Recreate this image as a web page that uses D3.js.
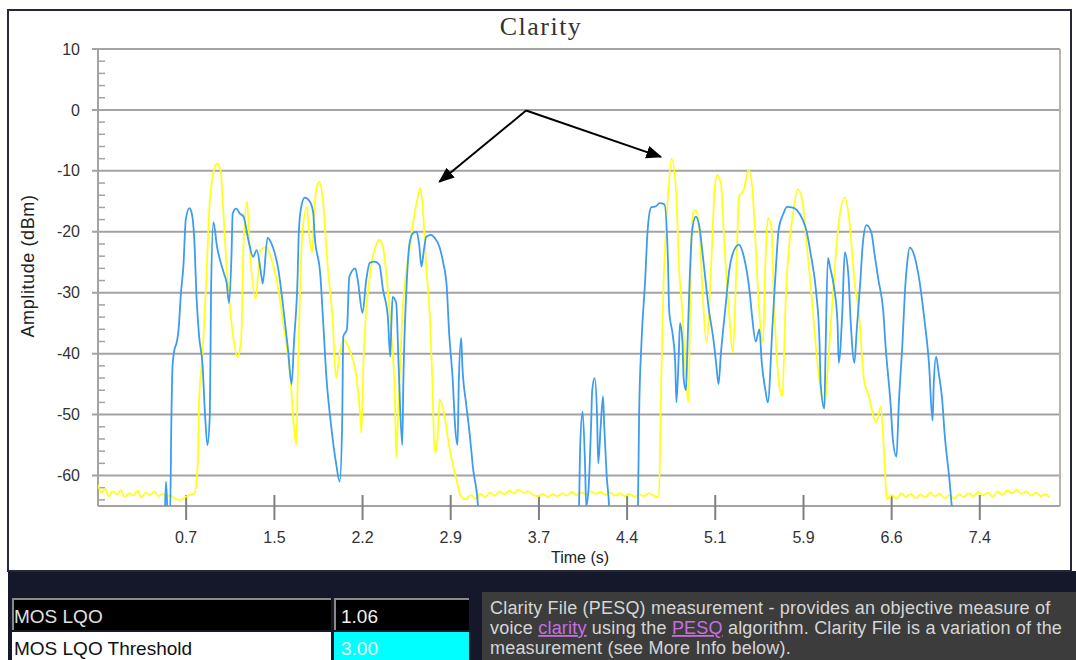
<!DOCTYPE html>
<html>
<head>
<meta charset="utf-8">
<script src="https://cdn.jsdelivr.net/npm/d3@7"></script>
<style>
  body { margin: 0; background: #fff; }
  svg { display: block; }
</style>
</head>
<body>
<svg width="1076" height="660"></svg>
<script>
// Clarity trace, amplitude (dBm) vs time (s)
const yellowT = [0.00,0.03,0.06,0.09,0.12,0.16,0.19,0.22,0.26,0.29,0.33,0.36,0.40,0.43,0.47,0.50,0.54,0.57,0.60,0.63,0.66,0.69,0.72,0.76,0.80,
  0.83,0.84,0.87,0.90,0.93,0.97,0.99,1.02,1.04,1.07,1.10,1.13,1.16,1.19,1.21,1.24,1.26,1.31,1.35,1.40,1.45,1.49,1.54,1.60,1.63,1.65,1.66,1.68,1.70,1.74,1.75,1.78,1.80,1.82,1.84,1.87,1.91,1.95,1.98,2.01,2.04,2.09,2.15,2.18,2.19,2.21,2.23,2.26,2.32,2.34,2.37,2.41,2.44,2.47,2.48,2.50,2.53,2.59,2.65,2.68,2.70,2.73,2.76,2.78,2.80,2.82,2.84,2.88,2.92,2.98,3.02,
  3.06,3.10,3.14,3.18,3.22,3.26,3.30,3.34,3.38,3.42,3.46,3.50,3.54,3.58,3.62,3.66,3.70,3.74,3.78,3.82,3.86,3.90,3.94,3.98,4.02,4.06,4.10,4.14,4.18,4.22,4.26,4.30,4.34,4.38,4.42,4.46,4.50,4.54,4.58,4.62,4.665,
  4.68,4.70,4.74,4.77,4.81,4.83,4.86,4.89,4.91,4.93,4.95,4.97,5.00,5.03,5.06,5.10,5.13,5.15,5.18,5.21,5.25,5.28,5.31,5.33,5.37,5.41,5.44,5.47,5.50,5.53,5.55,5.57,5.60,5.62,5.66,5.69,5.72,5.78,5.82,5.86,5.89,5.93,5.97,6.01,6.04,6.07,6.11,6.16,6.21,6.25,6.29,6.33,6.37,6.41,6.47,6.51,6.54,6.56,
  6.60,6.64,6.68,6.72,6.76,6.80,6.84,6.88,6.92,6.96,7.00,7.04,7.08,7.12,7.16,7.20,7.24,7.28,7.32,7.36,7.40,7.44,7.48,7.52,7.56,7.60,7.64,7.68,7.72,7.76,7.80,7.84,7.88,7.91];
const yellowDb = [-61.5,-62.8,-62.2,-63.4,-62.6,-63.1,-62.4,-63.5,-62.9,-63.3,-62.5,-63.6,-62.8,-63.2,-62.6,-63.4,-63.0,-63.5,-63.2,-63.7,-63.9,-64.0,-63.6,-63.2,-63.0,
  -58,-48,-40,-28,-15,-9.5,-8.8,-10,-16,-26,-33,-38,-40.5,-38,-22,-15,-22,-31,-23,-22.5,-25,-28.4,-35,-44,-52,-55,-45,-30,-20,-15.9,-19,-23.4,-16,-12.6,-11.8,-14.8,-25.7,-34,-44,-40,-37.7,-39.3,-44,-50,-53,-40,-33,-27.4,-21.8,-21.3,-22.5,-29.5,-37.2,-48,-57,-48,-34,-23,-15.2,-12.8,-15.9,-25.7,-34,-44,-56.2,-55,-47.5,-50,-55.2,-60.6,-63.5,
  -63.9,-63.2,-63.8,-63.0,-63.5,-62.8,-63.3,-62.6,-63.1,-62.5,-62.9,-62.3,-62.8,-62.6,-63.2,-63.4,-63.0,-63.5,-63.1,-63.4,-62.9,-63.3,-62.7,-63.2,-62.8,-63.1,-62.6,-63.0,-62.7,-63.2,-62.8,-63.3,-62.9,-63.4,-63.0,-63.5,-63.1,-63.4,-62.9,-63.3,-63.6,
  -48,-30.7,-14.3,-8.0,-14.3,-25.1,-33.3,-44.3,-48,-25.1,-16.9,-16.4,-19.7,-30.7,-38.2,-25.1,-12.6,-10.7,-12,-22.5,-33.9,-39.8,-25.1,-14.3,-13.1,-9.8,-12.6,-22.5,-33.3,-38.2,-25.1,-17.7,-19.2,-30.7,-44.3,-47,-30.7,-16.9,-13,-15.2,-21.3,-29.5,-38.9,-46,-49,-42,-30.7,-18.5,-14.4,-18.5,-27.9,-33.9,-44.3,-47,-51.3,-48.7,-57.4,-63.9,
  -63.2,-63.8,-62.9,-63.5,-63.0,-63.7,-63.1,-63.6,-62.8,-63.4,-63.0,-63.7,-63.2,-63.8,-63.1,-63.5,-62.9,-63.4,-62.7,-63.3,-62.8,-63.5,-62.6,-63.2,-62.5,-62.9,-62.3,-63.0,-62.6,-63.3,-62.8,-63.4,-63.0,-63.6];

const blueT = [0.00,0.55,0.565,0.58,0.60,0.61,0.62,0.64,0.65,0.67,0.69,0.71,0.73,0.76,0.78,0.80,0.82,0.84,0.87,0.89,0.91,0.93,0.94,0.96,0.99,1.02,1.05,1.07,1.09,1.11,1.12,1.15,1.18,1.21,1.25,1.29,1.32,1.36,1.37,1.41,1.44,1.47,1.50,1.54,1.58,1.61,1.63,1.66,1.67,1.69,1.72,1.76,1.79,1.80,1.85,1.87,1.90,1.94,1.98,2.01,2.03,2.04,2.07,2.09,2.14,2.16,2.20,2.23,2.26,2.30,2.34,2.37,2.41,2.43,2.44,2.45,2.48,2.50,2.53,2.54,2.57,2.59,2.62,2.65,2.67,2.69,2.71,2.73,2.77,2.80,2.84,2.87,2.90,2.92,2.95,2.97,2.99,3.00,3.02,3.03,3.06,3.09,3.12,3.16,3.17,
  3.98,4.00,4.01,4.03,4.05,4.06,4.08,4.10,4.11,4.13,4.15,4.16,4.18,4.20,4.21,4.23,4.25,4.26,
  4.47,4.49,4.50,4.52,4.55,4.57,4.60,4.64,4.67,4.71,4.74,4.75,4.78,4.80,4.81,4.83,4.84,4.86,4.87,4.89,4.90,4.92,4.94,4.97,5.00,5.03,5.08,5.12,5.14,5.16,5.18,5.22,5.25,5.29,5.33,5.37,5.42,5.44,5.47,5.50,5.52,5.55,5.57,5.61,5.64,5.66,5.70,5.73,5.77,5.81,5.86,5.89,5.93,5.97,6.00,6.01,6.04,6.05,6.07,6.09,6.12,6.15,6.16,6.19,6.21,6.24,6.26,6.29,6.31,6.34,6.36,6.39,6.43,6.46,6.49,6.53,6.55,6.59,6.61,6.64,6.66,6.69,6.71,6.73,6.75,6.79,6.83,6.87,6.91,6.94,6.95,6.97,6.99,7.02,7.04,7.08,7.10,7.12,8.00];
const blueDb = [-70,-70,-61,-66,-66,-51,-42,-39,-38.5,-36,-30,-25.7,-18,-16.1,-17,-21,-31,-37,-42,-50,-55,-50,-30,-18.4,-22.5,-25,-27,-28.4,-31.7,-24,-17,-16.2,-17,-17.5,-21.3,-24.1,-23,-27.4,-28.5,-21,-21.8,-23.5,-26.2,-32.3,-39.3,-45,-38,-27.4,-20,-15.9,-14.4,-15,-16.9,-20.2,-27.4,-33.9,-44,-52,-58,-61,-52,-37.2,-36,-27.4,-26,-27.9,-33.3,-28,-25.1,-24.9,-25.4,-29.5,-33.9,-40.5,-35,-30.7,-31.7,-42,-55,-44,-27.4,-22,-20.2,-20,-22,-25.7,-23,-20.8,-20.5,-21,-22.5,-25,-29,-36.6,-44.3,-52,-55,-45,-37.4,-42,-48,-53,-59,-65,-70,
  -70,-65,-55,-49.5,-58,-65,-62,-52,-46,-44,-50,-58,-52,-47,-52,-60,-65,-70,
  -70,-65,-50,-38,-28,-20,-16,-15.8,-15.3,-15.5,-25,-33,-37,-41.5,-48,-40,-35,-38,-44,-46,-40,-28,-20,-17.5,-19,-24,-32.8,-38,-41.5,-45,-40,-32,-26.2,-23,-22.1,-24,-30,-34,-38,-36,-41.5,-46,-48,-35,-25,-19.7,-17,-15.9,-16,-16.4,-18,-19.7,-24,-29.5,-38,-45,-49,-40,-24.3,-26,-29,-35,-41.5,-33,-23.4,-27,-35,-41.5,-36,-28,-22,-18.9,-20,-24,-27.9,-33,-38.9,-48,-54,-56.9,-48,-38.2,-30,-25,-22.6,-24,-27.9,-34,-41.5,-51,-45,-40.5,-43,-47.5,-53,-60.6,-65,-70,-70];

const xTickTimes = [0.733,1.467,2.2,2.933,3.667,4.4,5.133,5.867,6.6,7.333];
const xTickLabels = ["0.7","1.5","2.2","2.9","3.7","4.4","5.1","5.9","6.6","7.4"];
const yTicks = [10,0,-10,-20,-30,-40,-50,-60];

// arrow annotations: [fromT, fromDb, toT, toDb]
const arrows = [[3.56,-0.1,2.84,-11.8],[3.56,-0.1,4.68,-7.7]];

const mosLabels = ["MOS LQO","MOS LQO Threshold"];
const mosValues = ["1.06","3.00"];

const svg = d3.select("svg");
const plot = {left: 98, right: 1060, top: 49, bottom: 506};
const sans = "Arial, 'Liberation Sans', sans-serif";

const x = d3.scaleLinear().domain([0, 8]).range([plot.left, plot.right]);
const y = d3.scaleLinear().domain([-65, 10]).range([plot.bottom, plot.top]);

// outer white frame + bottom strip
svg.append("rect").attr("x", 0).attr("y", 0).attr("width", 1076).attr("height", 660).attr("fill", "#fff");
svg.append("rect").attr("x", 8).attr("y", 571).attr("width", 1068).attr("height", 89).attr("fill", "#15172a");
svg.append("rect").attr("x", 8).attr("y", 10).attr("width", 1063).attr("height", 561)
  .attr("fill", "#fff").attr("stroke", "#252838").attr("stroke-width", 2);

svg.append("text").attr("x", 541).attr("y", 35).attr("text-anchor", "middle")
  .style("font-family", "'Liberation Serif', 'Times New Roman', serif").style("font-size", "26px")
  .style("letter-spacing", "1.5px").attr("fill", "#333").text("Clarity");

// gridlines
svg.append("g").selectAll("line").data(yTicks).join("line")
  .attr("x1", plot.left - 6).attr("x2", plot.right)
  .attr("y1", d => y(d)).attr("y2", d => y(d))
  .attr("stroke", "#a3a3a3").attr("stroke-width", 2);

// minor ticks on y axis
svg.append("g").selectAll("line").data(d3.range(-64, 10, 2).filter(d => d % 10 !== 0)).join("line")
  .attr("x1", plot.left).attr("x2", plot.left + 7)
  .attr("y1", d => y(d)).attr("y2", d => y(d))
  .attr("stroke", "#a3a3a3").attr("stroke-width", 1.5);

svg.append("line").attr("x1", plot.left).attr("x2", plot.left).attr("y1", plot.top).attr("y2", plot.bottom)
  .attr("stroke", "#a3a3a3").attr("stroke-width", 2);
svg.append("line").attr("x1", plot.right).attr("x2", plot.right).attr("y1", plot.top).attr("y2", plot.bottom)
  .attr("stroke", "#b5b5b5").attr("stroke-width", 2);
svg.append("line").attr("x1", plot.left).attr("x2", plot.right).attr("y1", plot.bottom).attr("y2", plot.bottom)
  .attr("stroke", "#a3a3a3").attr("stroke-width", 2);

svg.append("g").selectAll("text").data(yTicks).join("text")
  .attr("x", 80).attr("y", d => y(d)).attr("dy", "0.35em").attr("text-anchor", "end")
  .style("font-family", sans).style("font-size", "16px")
  .attr("fill", "#333").text(d => d);

// x ticks
const xt = svg.append("g").selectAll("g").data(xTickTimes).join("g")
  .attr("transform", d => `translate(${x(d)},0)`);
xt.append("line").attr("y1", plot.bottom - 11).attr("y2", plot.bottom + 14)
  .attr("stroke", "#808080").attr("stroke-width", 2);
xt.append("text").attr("y", 543).attr("text-anchor", "middle")
  .style("font-family", sans).style("font-size", "16px")
  .attr("fill", "#333").text((d, i) => xTickLabels[i]);

svg.append("text").attr("x", 580).attr("y", 563).attr("text-anchor", "middle")
  .style("font-family", sans).style("font-size", "16px")
  .attr("fill", "#222").text("Time (s)");
svg.append("text").attr("transform", "translate(34,266) rotate(-90)").attr("text-anchor", "middle")
  .style("font-family", sans).style("font-size", "18px").style("letter-spacing", "0.6px")
  .attr("fill", "#222").text("Amplitude (dBm)");

// traces
svg.append("clipPath").attr("id", "plotclip").append("rect")
  .attr("x", plot.left).attr("y", plot.top).attr("width", plot.right - plot.left).attr("height", plot.bottom - plot.top);

const line = d3.line().x(d => x(d[0])).y(d => y(d[1])).curve(d3.curveMonotoneX);
const yellowData = yellowT.map((t, i) => [t, yellowDb[i]]);
const blueData = blueT.map((t, i) => [t, blueDb[i]]);

const traces = svg.append("g").attr("clip-path", "url(#plotclip)");
traces.append("path").datum(yellowData).attr("d", line)
  .attr("fill", "none").attr("stroke", "#ffff1a").attr("stroke-width", 1.8);
traces.append("path").datum(blueData).attr("d", line)
  .attr("fill", "none").attr("stroke", "#3d9cf0").attr("stroke-width", 1.8);

// arrows
svg.append("defs").append("marker").attr("id", "head")
  .attr("viewBox", "0 0 10 10").attr("refX", 9).attr("refY", 5)
  .attr("markerWidth", 8).attr("markerHeight", 8).attr("orient", "auto")
  .append("path").attr("d", "M0,1 L10,5 L0,9 Z").attr("fill", "#000");
svg.append("g").selectAll("line").data(arrows).join("line")
  .attr("x1", d => x(d[0])).attr("y1", d => y(d[1]))
  .attr("x2", d => x(d[2])).attr("y2", d => y(d[3]))
  .attr("stroke", "#000").attr("stroke-width", 2).attr("marker-end", "url(#head)");

// bottom info panel
const rows = svg.append("g").selectAll("g").data(mosLabels).join("g")
  .attr("transform", (d, i) => `translate(0,${598 + i * 34})`);
rows.append("rect").attr("x", 12).attr("y", 0).attr("width", 319).attr("height", (d, i) => i === 0 ? 32 : 30)
  .attr("fill", (d, i) => i === 0 ? "#000" : "#fff");
rows.append("rect").attr("x", 334).attr("y", 0).attr("width", 135).attr("height", (d, i) => i === 0 ? 32 : 30)
  .attr("fill", (d, i) => i === 0 ? "#000" : "#00ffff");
rows.filter((d, i) => i === 0).append("path")
  .attr("d", "M13,32 V1 H331 M335,32 V1 H469").attr("fill", "none").attr("stroke", "#8a8a8a").attr("stroke-width", 2);
rows.append("text").attr("x", 14).attr("y", (d, i) => i === 0 ? 25 : 23)
  .style("font-family", sans).style("font-size", "19px")
  .attr("fill", (d, i) => i === 0 ? "#e0e0e0" : "#111").text(d => d);
rows.append("text").attr("x", 341).attr("y", (d, i) => i === 0 ? 25 : 23)
  .style("font-family", sans).style("font-size", "19px")
  .attr("fill", "#f0f0f0").text((d, i) => mosValues[i]);

svg.append("rect").attr("x", 482).attr("y", 592).attr("width", 594).attr("height", 68).attr("fill", "#3c3c3c");
const info = svg.append("text")
  .style("font-family", sans).style("font-size", "18px").style("letter-spacing", "0.2px")
  .attr("fill", "#d6d6d6");
info.append("tspan").attr("x", 490).attr("y", 614).text("Clarity File (PESQ) measurement - provides an objective measure of");
const l2 = info.append("tspan").attr("x", 490).attr("y", 634);
l2.append("tspan").text("voice ");
l2.append("tspan").attr("fill", "#c86ee0").style("text-decoration", "underline").text("clarity");
l2.append("tspan").text(" using the ");
l2.append("tspan").attr("fill", "#c86ee0").style("text-decoration", "underline").text("PESQ");
l2.append("tspan").text(" algorithm. Clarity File is a variation of the");
info.append("tspan").attr("x", 490).attr("y", 654).text("measurement (see More Info below).");
</script>
</body>
</html>
